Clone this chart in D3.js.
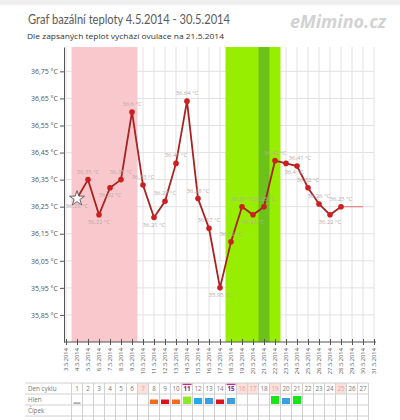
<!DOCTYPE html>
<html><head><meta charset="utf-8">
<script src="https://cdn.jsdelivr.net/npm/d3@7"></script>
<style>body{margin:0;background:#fff}svg{display:block;font-family:"Open Sans",sans-serif}</style>
</head><body><svg id="c" width="400" height="420"></svg>
<script>
const tickDays = [3,4,5,6,7,8,9,10,11,12,13,14,15,16,17,18,19,20,21,22,23,24,25,26,27,28,29,30,31];
const tickLabels = ["3.5.2014","4.5.2014","5.5.2014","6.5.2014","7.5.2014","8.5.2014","9.5.2014","10.5.2014","11.5.2014","12.5.2014","13.5.2014","14.5.2014","15.5.2014","16.5.2014","17.5.2014","18.5.2014","19.5.2014","20.5.2014","21.5.2014","22.5.2014","23.5.2014","24.5.2014","25.5.2014","26.5.2014","27.5.2014","28.5.2014","29.5.2014","30.5.2014","31.5.2014"];
const yTicks = [36.75,36.65,36.55,36.45,36.35,36.25,36.15,36.05,35.95,35.85];
const tempDays = [4,5,6,7,8,9,10,11,12,13,14,15,16,17,18,19,20,21,22,23,24,25,26,27,28];
const temps = [36.28,36.35,36.22,36.32,36.35,36.60,36.33,36.21,36.27,36.41,36.64,36.28,36.17,35.95,36.12,36.25,36.22,36.25,36.42,36.41,36.40,36.32,36.26,36.22,36.25];
const labelSide = ["b","a","b","b","a","a","a","b","a","a","a","a","a","b","a","a","b","a","a","r","c","a","a","b","a"];
const extDays = [28,30];
const extValue = 36.25;
const menstruationDays = [4,5,6,7,8,9];
const fertileDays = [18,19,20,21,22];
const ovulationDay = 21;
const cycleDays = [1,2,3,4,5,6,7,8,9,10,11,12,13,14,15,16,17,18,19,20,21,22,23,24,25,26,27];
const pinkCycleDays = [7,16,17,19,25];
const markedCycleDays = [11,15];
const hlenDays = [1,8,9,10,11,12,13,14,15,19,20,21];
const hlenTypes = ["none","orange","red","orange","lime","cyan","blue","red","blue","green","blue","green"];
const rowNames = ["Den cyklu","Hlen","Čípek",""];

const svg = d3.select("#c");
const x = d3.scaleLinear().domain([3,31]).range([66,374]);
const y = d3.scaleLinear().domain([35.75,36.84]).range([342,47]);
const half = 5.5;
const fmt = v => String(+v.toFixed(2)).replace(".", ",");
const labOff = {a:[0,-6], b:[0,9.5], r:[14,-3], c:[-3,7.5]};

svg.append("rect").attr("x",0).attr("y",0).attr("width",400).attr("height",5).attr("fill","#efefef");

// titles
svg.append("text").attr("x",28).attr("y",24).attr("font-size",12.5).attr("fill","#5a5a5a")
  .attr("font-family","Lato").attr("textLength",202).attr("lengthAdjust","spacingAndGlyphs")
  .text("Graf bazální teploty 4.5.2014 - 30.5.2014");
svg.append("text").attr("x",27).attr("y",39).attr("font-size",7.5).attr("fill","#333")
  .attr("textLength",197).attr("lengthAdjust","spacingAndGlyphs")
  .text("Dle zapsaných teplot vychází ovulace na 21.5.2014");
svg.append("text").attr("x",290).attr("y",28).attr("font-size",17).attr("font-style","italic")
  .attr("font-weight","bold").attr("fill","#d2d2d2")
  .attr("textLength",96).attr("lengthAdjust","spacingAndGlyphs").text("eMimino.cz");

// grid
const g = svg.append("g");
g.selectAll("line.v").data(tickDays).join("line")
  .attr("x1",d=>x(d)).attr("x2",d=>x(d)).attr("y1",y(36.84)).attr("y2",y(35.75))
  .attr("stroke","#e2e2e2");
g.selectAll("line.h").data(yTicks).join("line")
  .attr("x1",x(3)).attr("x2",x(31)).attr("y1",d=>y(d)).attr("y2",d=>y(d))
  .attr("stroke","#e2e2e2");

// bands
svg.append("rect").attr("x",x(d3.min(menstruationDays))-half).attr("y",y(36.84))
  .attr("width",x(d3.max(menstruationDays))-x(d3.min(menstruationDays))+2*half)
  .attr("height",y(35.75)-y(36.84)).attr("fill","#f9c8cc");
svg.append("rect").attr("x",x(d3.min(fertileDays))-half).attr("y",y(36.84))
  .attr("width",x(d3.max(fertileDays))-x(d3.min(fertileDays))+2*half)
  .attr("height",y(35.75)-y(36.84)).attr("fill","#98ee00");
svg.append("rect").attr("x",x(ovulationDay)-half).attr("y",y(36.84))
  .attr("width",2*half).attr("height",y(35.75)-y(36.84)).attr("fill","#6cc21a");

// axes
const ya = svg.append("g").attr("transform","translate(64,0)")
  .call(d3.axisLeft(y).tickValues(yTicks).tickFormat(v=>fmt(v)+" °C").tickSize(4).tickSizeOuter(0).tickPadding(2));
ya.select(".domain").attr("stroke","#555");
ya.selectAll(".tick line").attr("stroke","#555");
ya.selectAll("text").attr("fill","#555").attr("font-size",7).attr("font-family","Open Sans");

const xa = svg.append("g").attr("transform","translate(0,342)")
  .call(d3.axisBottom(x).tickValues(tickDays).tickFormat((d,i)=>tickLabels[i]).tickSize(3).tickSizeOuter(0));
xa.select(".domain").attr("stroke","#555").attr("d","M64,0H376");
xa.selectAll(".tick line").attr("stroke","#555").attr("y1",-3).attr("y2",3);
xa.selectAll("text").attr("fill","#555").attr("font-size",5.8).attr("font-family","Open Sans")
  .attr("transform","rotate(-90)").attr("x",-6).attr("y",0).attr("dy","0.32em").style("text-anchor","end");

// data
const pts = tempDays.map((d,i)=>({d, v:temps[i], s:labelSide[i], i}));
svg.append("path").datum([[extDays[0],extValue],[extDays[1],extValue]])
  .attr("d",d3.line().x(p=>x(p[0])).y(p=>y(p[1])))
  .attr("fill","none").attr("stroke","#e48888").attr("stroke-width",1.3);
svg.append("path").datum(pts).attr("d",d3.line().x(p=>x(p.d)).y(p=>y(p.v)))
  .attr("fill","none").attr("stroke","#a82222").attr("stroke-width",1.8);
svg.selectAll("circle.p").data(pts.filter(p=>p.i>0)).join("circle")
  .attr("cx",p=>x(p.d)).attr("cy",p=>y(p.v)).attr("r",2.8).attr("fill","#cc1f1f");
svg.append("path").attr("d",d3.symbol(d3.symbolStar,70)())
  .attr("transform",`translate(${x(pts[0].d)},${y(pts[0].v)})`)
  .attr("fill","#fff").attr("stroke","#555").attr("stroke-width",0.9);
svg.selectAll("text.lab").data(pts).join("text")
  .attr("x",p=>x(p.d)+labOff[p.s][0]).attr("y",p=>y(p.v)+labOff[p.s][1])
  .attr("text-anchor","middle").attr("font-size",5.8).attr("fill","#b9a9a9")
  .text(p=>fmt(p.v)+" °C");

// table
const t0 = 383, rh = 11, colL = 25;
const tx = d => x(d+3);
const tb = svg.append("g");
tb.selectAll("rect.pk").data(pinkCycleDays).join("rect")
  .attr("x",d=>tx(d)-half).attr("y",t0).attr("width",2*half).attr("height",rh).attr("fill","#fbe0dc");
tb.selectAll("rect.mk").data(markedCycleDays).join("rect")
  .attr("x",d=>tx(d)-half+1).attr("y",t0+0.5).attr("width",2*half-2).attr("height",1.6).attr("fill","#c0308a");
tb.selectAll("line.rh").data(d3.range(rowNames.length+1)).join("line")
  .attr("x1",colL).attr("x2",tx(27)+half).attr("y1",r=>t0+r*rh).attr("y2",r=>t0+r*rh)
  .attr("stroke","#d0d0d0");
tb.selectAll("line.cv").data([0].concat(cycleDays)).join("line")
  .attr("x1",d=>tx(d)+half).attr("x2",d=>tx(d)+half).attr("y1",t0).attr("y2",t0+rowNames.length*rh)
  .attr("stroke","#d0d0d0");
tb.selectAll("text.rn").data(rowNames).join("text")
  .attr("x",28).attr("y",(r,i)=>t0+i*rh+7.5).attr("font-size",6.3).attr("fill","#777").text(r=>r);
tb.selectAll("text.cd").data(cycleDays).join("text")
  .attr("x",d=>tx(d)).attr("y",t0+7.8).attr("text-anchor","middle").attr("font-size",6.3)
  .attr("font-weight",d=>markedCycleDays.includes(d)?"bold":"normal")
  .attr("fill",d=>markedCycleDays.includes(d)?"#8a2070":(pinkCycleDays.includes(d)?"#e7a0a0":"#777"))
  .text(d=>d);
const hStyle = {
  none:{c:"#888",w:7,h:1.2,dy:8.5}, orange:{c:"#f26a21",w:8,h:4.5,dy:5.5}, red:{c:"#dd1122",w:8,h:4.5,dy:5.5},
  lime:{c:"#8ee82a",w:8,h:7.5,dy:2.5}, cyan:{c:"#22aaee",w:8,h:6,dy:4}, blue:{c:"#3a9ee0",w:8,h:6,dy:4},
  green:{c:"#16e616",w:8,h:8,dy:2}
};
tb.selectAll("rect.hl").data(hlenDays.map((d,i)=>({d,t:hlenTypes[i]}))).join("rect")
  .attr("x",p=>tx(p.d)-hStyle[p.t].w/2).attr("y",p=>t0+rh+hStyle[p.t].dy)
  .attr("width",p=>hStyle[p.t].w).attr("height",p=>hStyle[p.t].h).attr("fill",p=>hStyle[p.t].c);
</script></body></html>
